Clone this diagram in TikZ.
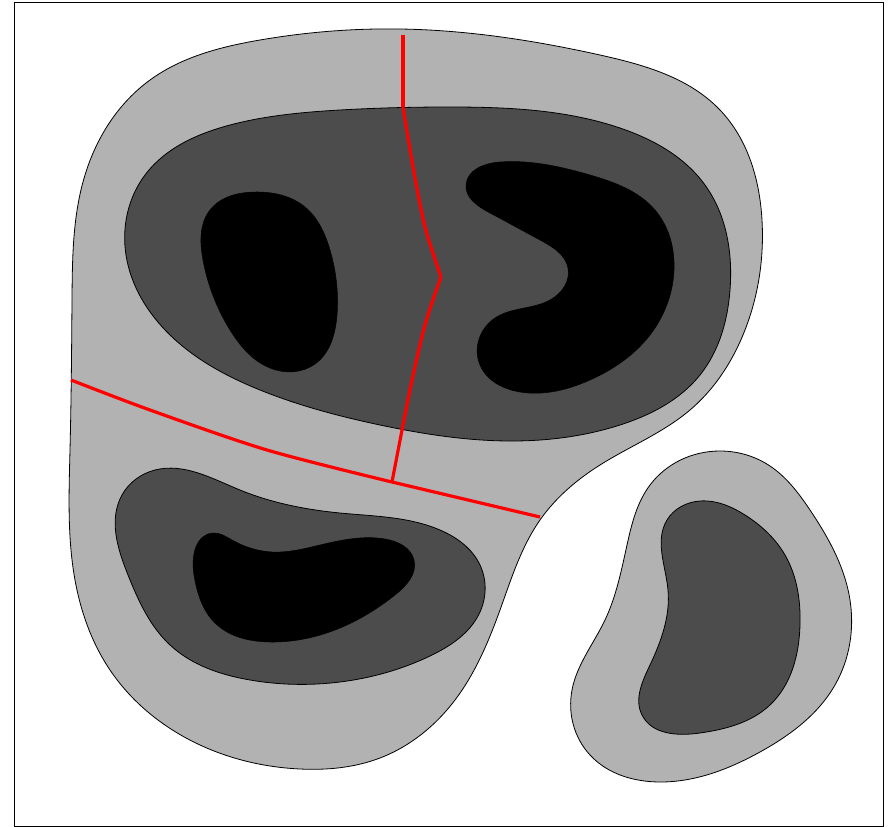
\documentclass[tikz,border=0pt]{standalone}
\usetikzlibrary{hobby}
\begin{document}
\begin{tikzpicture}[x=1pt, y=-1pt,
    outer/.style={draw=black, line width=0.8pt, fill=black!30},
    middle/.style={draw=black, line width=0.8pt, fill=black!70},
    inner/.style={draw=black, line width=0.5pt, fill=black},
    cut/.style={red, line width=3.2pt}]
    \useasboundingbox (0,0) rectangle (895,827);
    \draw[line width=1pt] (14,2) rectangle (883,826);

    % Large region (light gray)
    \draw[outer] plot[closed hobby] coordinates {(400,29) (600,55) (720,110)
        (762,220) (745,330) (690,410) (600,465) (540,520) (500,610) (455,700)
        (380,758) (300,769) (200,745) (110,670) (75,580) (70,450) (72,300)
        (85,175) (150,80) (260,40)};

    % Upper middle level
    \draw[middle] plot[closed hobby] coordinates {(450,107) (620,128)
        (705,185) (730,290) (700,375) (620,425) (510,441) (380,425) (260,390)
        (170,335) (126,255) (145,175) (230,125) (340,110)};

    % Upper cores
    \draw[inner] plot[closed hobby] coordinates {(255,192) (210,210)
        (203,260) (230,330) (270,368) (315,364) (337,315) (330,250) (305,207)};
    \draw[inner] plot[closed hobby] coordinates {(500,162) (590,175)
        (655,210) (674,270) (650,335) (590,380) (520,392) (480,365) (495,318)
        (550,300) (568,268) (540,240) (490,213) (466,185)};

    % Lower middle level and core
    \draw[middle] plot[closed hobby] coordinates {(155,470) (122,495)
        (128,575) (170,645) (250,680) (340,682) (430,656) (480,612) (480,565)
        (440,530) (340,513) (240,490)};
    \draw[inner] plot[closed hobby] coordinates {(213,533) (194,575)
        (215,623) (270,642) (340,628) (395,595) (414,560) (385,539) (320,545)
        (272,552) (232,540)};

    % Separate region on the right
    \draw[outer] plot[closed hobby] coordinates {(720,451) (650,485)
        (627,545) (605,620) (572,690) (590,755) (660,782) (760,752) (835,685)
        (850,600) (810,510) (770,466)};
    \draw[middle] plot[closed hobby] coordinates {(700,501) (667,520)
        (668,590) (650,665) (642,715) (700,733) (770,705) (800,625) (785,555)
        (745,515)};

    % Red cut lines
    \coordinate (top) at (403,35);
    \coordinate (bend) at (441,277);
    \coordinate (junction) at (392,482);
    \coordinate (west) at (71,380);
    \coordinate (east) at (540,517);
    \draw[cut] (top) -- (403,107);
    \draw[cut] plot[smooth] coordinates {(403,107) (413,167) (425,227) (bend)};
    \draw[cut] plot[smooth] coordinates {(bend) (425,325) (410,390) (junction)};
    \draw[cut] plot[smooth] coordinates {(west) (150,410) (267,450) (junction)};
    \draw[cut] (junction) -- (east);
\end{tikzpicture}
\end{document}
